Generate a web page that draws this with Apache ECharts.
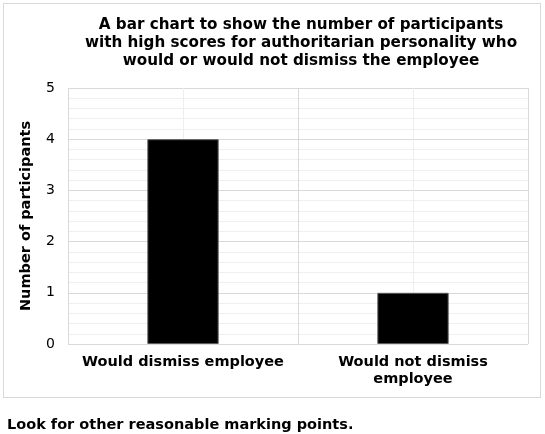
<!DOCTYPE html>
<html><head><meta charset="utf-8">
<script src="https://cdn.jsdelivr.net/npm/echarts@6/dist/echarts.min.js"></script>
<style>html,body{margin:0;padding:0;background:#fff}
#box{position:absolute;left:3px;top:3px;width:536px;height:393px;border:1px solid #d9d9d9}
#c{position:absolute;left:0;top:0;width:545px;height:434px}
#note{position:absolute;left:7px;top:416px;font:bold 14.5px "DejaVu Sans";color:#000}</style>
</head><body>
<div id="box"></div>
<div id="c"></div>
<div id="note">Look for other reasonable marking points.</div>
<script>
const categories = ["Would dismiss employee", "Would not dismiss\nemployee"];
const values = [4, 1];
const titleText = "A bar chart to show the number of participants\nwith high scores for authoritarian personality who\nwould or would not dismiss the employee";
const chart = echarts.init(document.getElementById('c'));
const txt = {fontFamily:"DejaVu Sans", fontWeight:"bold", color:"#000"};
chart.setOption({
  animation:false,
  title:{text:titleText, left:296, textAlign:'center', top:11,
    textStyle:Object.assign({fontSize:15.2, lineHeight:18}, txt)},
  grid:{left:68, right:17, top:88, bottom:90},
  xAxis:[
    {type:'category', data:categories, axisLine:{show:false}, axisTick:{show:false},
     axisLabel:Object.assign({fontSize:14.5, lineHeight:17, margin:10, interval:0}, txt)},
    {type:'value', min:0, max:2, interval:1, show:true, axisLine:{show:false}, axisTick:{show:false},
     axisLabel:{show:false}, splitLine:{lineStyle:{color:'#d9d9d9'}},
     minorTick:{show:false, splitNumber:2}, minorSplitLine:{show:true, lineStyle:{color:'#efefef'}}}
  ],
  yAxis:{type:'value', min:0, max:5, interval:1, name:'Number of participants', nameLocation:'middle',
    nameGap:34, nameTextStyle:Object.assign({fontSize:14.5}, txt),
    axisLine:{show:false}, axisTick:{show:false},
    axisLabel:{fontFamily:"DejaVu Sans", fontSize:14, color:'#000', margin:13},
    splitLine:{lineStyle:{color:'#d9d9d9'}},
    minorTick:{show:false, splitNumber:5}, minorSplitLine:{show:true, lineStyle:{color:'#efefef'}}},
  series:[{type:'bar', data:values, xAxisIndex:0, barWidth:'31%',
    itemStyle:{color:'#000', borderColor:'#595959', borderWidth:1}}]
});
</script></body></html>
